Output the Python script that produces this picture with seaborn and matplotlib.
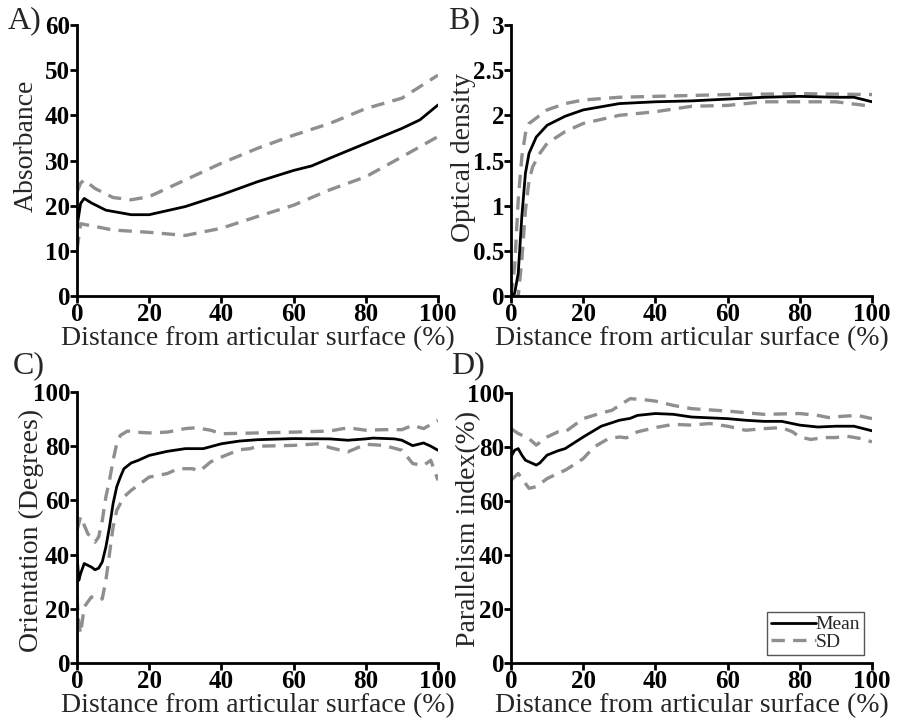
import numpy as np
import pandas as pd
import matplotlib
matplotlib.use("Agg")
import matplotlib.pyplot as plt
from matplotlib.lines import Line2D
from matplotlib.ticker import FuncFormatter
import seaborn as sns

# ---------------- Data ----------------
# Panel A: Absorbance
a_mean_x = [0, 1, 2, 4, 8, 15, 20, 25, 30, 40, 50, 60, 65, 70, 80, 90, 95, 100]
a_mean_y = [15.3, 20.5, 21.6, 20.6, 19.0, 18.0, 18.0, 18.9, 19.8, 22.4, 25.3, 27.8, 28.8, 30.5, 33.8, 37.1, 39.0, 42.3]
a_up_x = [0, 1, 2, 5, 10, 15, 20, 30, 40, 50, 60, 70, 80, 90, 100]
a_up_y = [23.0, 25.0, 25.7, 23.8, 21.8, 21.3, 22.0, 25.7, 29.4, 32.7, 35.6, 38.2, 41.5, 43.8, 48.9]
a_lo_x = [0, 1, 5, 10, 20, 30, 40, 50, 60, 70, 80, 90, 100]
a_lo_y = [10.2, 16.0, 15.4, 14.6, 14.1, 13.4, 15.0, 17.6, 20.1, 23.5, 26.4, 30.8, 35.3]

# Panel B: Optical density
b_mean_x = [0, 1, 2, 3, 4, 5, 7, 10, 15, 20, 30, 40, 50, 60, 70, 80, 90, 95, 100]
b_mean_y = [0.0, 0.03, 0.25, 0.88, 1.36, 1.58, 1.76, 1.89, 1.99, 2.06, 2.13, 2.15, 2.16, 2.18, 2.20, 2.21, 2.20, 2.20, 2.15]
b_up_x = [0, 1, 2, 3, 4, 5, 8, 10, 15, 20, 30, 40, 60, 80, 100]
b_up_y = [0.0, 0.32, 1.06, 1.54, 1.80, 1.91, 2.00, 2.06, 2.13, 2.17, 2.20, 2.21, 2.23, 2.24, 2.23]
b_lo_x = [0, 2, 3, 4, 5, 6, 8, 10, 15, 20, 30, 40, 50, 60, 70, 80, 90, 100]
b_lo_y = [0.0, 0.0, 0.40, 0.95, 1.28, 1.43, 1.58, 1.69, 1.82, 1.91, 2.00, 2.04, 2.10, 2.11, 2.15, 2.15, 2.15, 2.10]

# Panel C: Orientation
c_mean_x = [0, 0.5, 1, 2, 4, 5, 6, 7, 8, 9, 10, 11, 12, 13, 15, 17, 20, 25, 30, 35, 40, 45, 50, 60, 70, 75, 80, 82, 88, 90, 93, 96, 98, 100]
c_mean_y = [40.3, 30.5, 33.0, 36.7, 35.4, 34.4, 35.0, 37.3, 42.8, 50.2, 58.8, 65.0, 68.6, 71.7, 73.8, 74.8, 76.6, 78.1, 79.1, 79.1, 80.9, 81.9, 82.4, 82.8, 82.7, 82.2, 82.7, 83.0, 82.7, 82.2, 80.2, 81.2, 80.0, 78.5]
c_up_x = [0, 1, 3, 5, 6, 7, 8, 9, 10, 11, 12, 14, 16, 20, 25, 30, 33, 37, 40, 50, 60, 70, 75, 80, 85, 90, 93, 96, 100]
c_up_y = [49.0, 54.0, 47.7, 44.6, 46.5, 52.6, 61.3, 67.4, 74.8, 80.9, 84.0, 85.6, 85.2, 84.9, 85.2, 86.5, 86.8, 85.9, 84.6, 84.9, 85.2, 85.6, 86.8, 85.9, 86.1, 86.1, 87.7, 86.5, 89.5]
c_lo_x = [0, 0.5, 1, 2, 4, 6, 7, 8, 9, 10, 11, 13, 15, 20, 25, 28, 32, 34, 37, 40, 45, 48, 50, 60, 67, 70, 75, 80, 85, 90, 93, 96, 98, 100]
c_lo_y = [24.4, 14.5, 10.8, 20.7, 24.4, 23.1, 23.7, 30.5, 40.3, 50.2, 56.3, 61.3, 63.7, 68.6, 69.9, 71.7, 71.7, 70.8, 74.2, 76.0, 78.7, 79.1, 80.0, 80.3, 80.9, 79.5, 77.9, 80.7, 80.3, 78.5, 73.6, 72.9, 74.8, 67.4]

# Panel D: Parallelism index
d_mean_x = [0, 1, 2, 3, 4, 6, 7, 8, 10, 13, 15, 20, 25, 30, 33, 35, 40, 45, 50, 60, 65, 70, 75, 80, 85, 90, 95, 100]
d_mean_y = [76.4, 78.8, 79.4, 77.0, 75.1, 73.9, 73.3, 74.1, 77.0, 78.6, 79.4, 83.7, 87.7, 89.9, 90.6, 91.7, 92.4, 92.1, 91.1, 90.5, 89.9, 89.5, 89.5, 88.1, 87.4, 87.7, 87.7, 86.0]
d_up_x = [0, 2, 5, 7, 10, 13, 15, 20, 25, 28, 30, 33, 37, 40, 45, 50, 60, 70, 80, 85, 88, 92, 96, 100]
d_up_y = [86.8, 85.0, 83.1, 80.7, 83.7, 85.6, 85.6, 90.5, 92.6, 93.6, 95.4, 97.9, 97.5, 97.0, 95.4, 94.2, 93.3, 92.1, 92.4, 91.7, 90.9, 91.4, 91.7, 90.5]
d_lo_x = [0, 2, 4, 5, 7, 10, 13, 15, 18, 20, 23, 27, 30, 32, 35, 40, 45, 50, 55, 60, 65, 70, 75, 78, 80, 83, 87, 90, 93, 97, 100]
d_lo_y = [67.7, 70.2, 66.5, 64.7, 65.3, 68.3, 70.2, 71.4, 73.9, 75.7, 80.0, 83.1, 83.7, 83.4, 85.6, 87.2, 88.4, 88.1, 88.7, 87.7, 86.2, 86.8, 87.2, 85.6, 83.7, 82.8, 83.5, 83.5, 84.0, 83.1, 81.9]

panel_letters = ["A)", "B)", "C)", "D)"]
y_labels = ["Absorbance", "Optical density", "Orientation (Degrees)", "Parallelism index(%)"]
x_label = "Distance from articular surface (%)"
x_ticks = [0, 20, 40, 60, 80, 100]
y_ticks_list = [[0, 10, 20, 30, 40, 50, 60],
                [0, 0.5, 1, 1.5, 2, 2.5, 3],
                [0, 20, 40, 60, 80, 100],
                [0, 20, 40, 60, 80, 100]]
legend_labels = ["Mean", "SD"]

# ---------------- Style ----------------
sns.set_theme(style="ticks")
plt.rcParams["font.family"] = ["Liberation Serif", "DejaVu Serif"]
plt.rcParams["axes.linewidth"] = 2.0

fig = plt.figure(figsize=(9.0, 7.19), dpi=100)
W, H = 900, 719
boxes = [(77, 25, 438, 296), (511, 25, 872, 296), (77, 392, 438, 663), (511, 393, 872, 663)]
letter_pos = [(8, 21), (448, 21), (13, 366), (451, 366)]
ylabel_coords = [(-0.105, 0.555), (-0.098, 0.51), (-0.091, 0.49), (-0.083, 0.496)]

series = [
    (a_mean_x, a_mean_y, a_up_x, a_up_y, a_lo_x, a_lo_y),
    (b_mean_x, b_mean_y, b_up_x, b_up_y, b_lo_x, b_lo_y),
    (c_mean_x, c_mean_y, c_up_x, c_up_y, c_lo_x, c_lo_y),
    (d_mean_x, d_mean_y, d_up_x, d_up_y, d_lo_x, d_lo_y),
]

sd_color = "#8f8f8f"
sd_dash = (0, (4.0, 2.5))
for i, (box, s) in enumerate(zip(boxes, series)):
    x0, y0, x1, y1 = box
    ax = fig.add_axes([x0 / W, 1 - y1 / H, (x1 - x0) / W, (y1 - y0) / H])
    mx, my, ux, uy, lx, ly = s
    sns.lineplot(x=ux, y=uy, ax=ax, color=sd_color, lw=2.4, linestyle=sd_dash, estimator=None)
    sns.lineplot(x=lx, y=ly, ax=ax, color=sd_color, lw=2.4, linestyle=sd_dash, estimator=None)
    sns.lineplot(x=mx, y=my, ax=ax, color="black", lw=2.0, estimator=None)
    yt = y_ticks_list[i]
    ax.set_xlim(0, 100)
    ax.set_ylim(0, yt[-1])
    ax.set_xticks(x_ticks)
    ax.set_yticks(yt)
    ax.yaxis.set_major_formatter(FuncFormatter(lambda v, p: f"{v:g}"))
    sns.despine(ax=ax)
    ax.tick_params(axis="both", direction="out", length=5, width=2, pad=0,
                   labelsize=18, colors="black")
    for lab in ax.get_xticklabels() + ax.get_yticklabels():
        lab.set_fontweight("bold")
    ax.set_xlabel(x_label, fontsize=20, labelpad=0)
    ax.set_ylabel(y_labels[i], fontsize=20)
    ax.yaxis.set_label_coords(*ylabel_coords[i])
    ax.spines["left"].set_color("black")
    ax.spines["bottom"].set_color("black")
    fig.text(letter_pos[i][0] / W, 1 - letter_pos[i][1] / H, panel_letters[i],
             fontsize=23, ha="left", va="center")
    if i == 3:
        handles = [Line2D([], [], color="black", lw=2.0),
                   Line2D([], [], color=sd_color, lw=2.4, linestyle=sd_dash)]
        leg = ax.legend(handles, legend_labels, loc="lower right",
                        bbox_to_anchor=(0.978, 0.03), borderaxespad=0,
                        fontsize=14, handlelength=2.3, handletextpad=0.0,
                        labelspacing=0.0, borderpad=0.2, fancybox=False,
                        framealpha=1)
        leg.get_frame().set_edgecolor("#555555")
        leg.get_frame().set_linewidth(1.0)

fig.savefig("out.png", dpi=100)
